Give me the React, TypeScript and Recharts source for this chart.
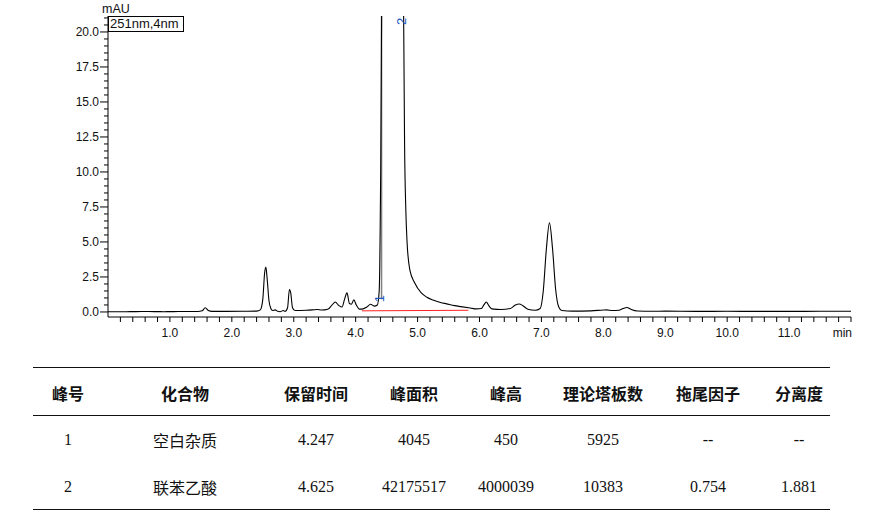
import React from 'react';
import { LineChart, Line, XAxis, YAxis, ReferenceLine, ReferenceDot } from 'recharts';

// Chromatogram trace: retention time (min) and absorbance (mAU)
const times = [
  0.0, 0.3, 0.6, 0.9, 1.2, 1.45, 1.52, 1.57, 1.62, 1.68, 1.9, 2.2, 2.4, 2.46, 2.5, 2.53, 2.55, 2.57, 2.6, 2.63,
  2.66, 2.7, 2.74, 2.78, 2.83, 2.86, 2.9, 2.93, 2.95, 2.98, 3.02, 3.2, 3.3, 3.38, 3.45, 3.55, 3.62, 3.67, 3.73, 3.78,
  3.82, 3.86, 3.9, 3.93, 3.97, 4.01, 4.06, 4.1, 4.18, 4.24, 4.3, 4.35, 4.38, 4.4, 4.42, 4.45, 4.5, 4.625, 4.7, 4.74,
  4.76, 4.775, 4.79, 4.81, 4.83, 4.875, 4.95, 5.06, 5.15, 5.25, 5.37, 5.47, 5.6, 5.7, 5.85, 5.95, 6.03, 6.07, 6.11, 6.15,
  6.2, 6.35, 6.5, 6.58, 6.64, 6.7, 6.78, 6.9, 6.98, 7.03, 7.08, 7.13, 7.18, 7.23, 7.28, 7.33, 7.5, 7.8, 8.0, 8.05,
  8.15, 8.25, 8.32, 8.38, 8.45, 8.55, 8.8, 9.0, 9.5, 10.0, 10.5, 11.0, 11.5, 12.0,
];
const absorbance = [
  0.02, 0.02, 0.03, 0.02, 0.03, 0.03, 0.08, 0.3, 0.1, 0.04, 0.04, 0.05, 0.06, 0.15, 0.9, 2.8, 3.2, 2.4, 0.8, 0.25,
  0.1, 0.15, 0.05, 0.02, 0.1, 0.05, 0.3, 1.6, 1.4, 0.3, 0.1, 0.12, 0.15, 0.18, 0.14, 0.2, 0.5, 0.71, 0.45, 0.35,
  0.9, 1.36, 0.6, 0.55, 0.86, 0.5, 0.2, 0.2, 0.35, 0.55, 0.42, 0.5, 1.5, 8, 22, 200, 1500, 4000, 1500, 200,
  40, 21, 12, 7.3, 5.0, 3.0, 2.1, 1.36, 1.05, 0.85, 0.68, 0.58, 0.45, 0.38, 0.28, 0.22, 0.25, 0.5, 0.71, 0.45,
  0.22, 0.18, 0.25, 0.5, 0.57, 0.45, 0.2, 0.12, 0.25, 1.5, 4.5, 6.36, 4.5, 1.6, 0.35, 0.1, 0.06, 0.08, 0.14, 0.15,
  0.1, 0.12, 0.25, 0.32, 0.18, 0.07, 0.05, 0.06, 0.04, 0.05, 0.04, 0.04, 0.05, 0.05,
];

// Integration baseline (red)
const baselineTimes = [4.1, 5.82];
const baselineValues = [0.08, 0.12];

// Peak labels
const peakLabels = ['1', '2'];
const peakLabelTimes = [4.39, 4.748];
const peakLabelValues = [0.95, 20.75];

// Axis labels
const xMajorLabels = ['1.0', '2.0', '3.0', '4.0', '5.0', '6.0', '7.0', '8.0', '9.0', '10.0', '11.0'];
const xUnit = 'min';
const yMajorLabels = ['0.0', '2.5', '5.0', '7.5', '10.0', '12.5', '15.0', '17.5', '20.0'];
const yUnit = 'mAU';
const legendText = '251nm,4nm';

// Table
const tableHeaders = ['峰号', '化合物', '保留时间', '峰面积', '峰高', '理论塔板数', '拖尾因子', '分离度'];
const row1 = ['1', '空白杂质', '4.247', '4045', '450', '5925', '--', '--'];
const row2 = ['2', '联苯乙酸', '4.625', '42175517', '4000039', '10383', '0.754', '1.881'];

const traceData = times.map((t, i) => ({ t, v: absorbance[i] }));
const baselineData = baselineTimes.map((t, i) => ({ t, v: baselineValues[i] }));

const xTicks: number[] = [];
for (let i = 1; i <= 60; i++) xTicks.push(Math.round(i * 2) / 10);
const yTicks: number[] = [];
for (let i = 0; i <= 42; i++) yTicks.push(i / 2);

const axisFont = '"Liberation Sans", Arial, sans-serif';

const XTick = (props: any) => {
  const { x, y, payload } = props;
  const v = payload.value as number;
  const isMajor = Math.abs(v - Math.round(v)) < 1e-6;
  let label: string | null = null;
  if (isMajor) {
    const idx = Math.round(v) - 1;
    if (idx >= 0 && idx < xMajorLabels.length) label = xMajorLabels[idx];
  }
  const isEnd = Math.abs(v - 12) < 1e-6;
  return (
    <g>
      <line x1={x} x2={x} y1={y} y2={y + 5} stroke="#000" strokeWidth={1} />
      {label && (
        <text x={x} y={y + 20} textAnchor="middle" fontSize={12} fontFamily={axisFont} fill="#111">
          {label}
        </text>
      )}
      {isEnd && (
        <text x={x + 1} y={y + 20} textAnchor="end" fontSize={12} fontFamily={axisFont} fill="#111">
          {xUnit}
        </text>
      )}
    </g>
  );
};

const YTick = (props: any) => {
  const { x, y, payload } = props;
  const v = payload.value as number;
  const k = v / 2.5;
  const isMajor = Math.abs(k - Math.round(k)) < 1e-6;
  const label = isMajor ? yMajorLabels[Math.round(k)] : null;
  return (
    <g>
      <line x1={x - (isMajor ? 8 : 4)} x2={x} y1={y} y2={y} stroke="#000" strokeWidth={1} />
      {label && (
        <text x={x - 9} y={y + 4.5} textAnchor="end" fontSize={12} fontFamily={axisFont} fill="#111">
          {label}
        </text>
      )}
    </g>
  );
};

const PeakLabel = (text: string) => (props: any) => {
  const { cx, cy } = props;
  return (
    <text
      x={cx}
      y={cy}
      transform={`rotate(-90 ${cx} ${cy})`}
      textAnchor="middle"
      dominantBaseline="central"
      fontSize={13}
      fontFamily={axisFont}
      fill="#1f5bbf"
    >
      {text}
    </text>
  );
};

const colCenters = [68, 185, 316, 414, 506, 603, 708, 799];
const rowCenters = [393, 440, 487];
const ruleYs = [367, 415, 509];

const Cell = ({ cx, cy, text, header }: { cx: number; cy: number; text: string; header?: boolean }) => {
  const isCJK = /[\u4e00-\u9fff]/.test(text);
  return (
    <div
      style={{
        position: 'absolute',
        left: cx - 80,
        top: cy - 11,
        width: 160,
        height: 22,
        lineHeight: '22px',
        textAlign: 'center',
        fontSize: 16,
        fontWeight: header ? 700 : 400,
        color: '#111',
        fontFamily: header || isCJK ? '"Noto Sans CJK SC", sans-serif' : '"Liberation Serif", "Times New Roman", serif',
        whiteSpace: 'nowrap',
      }}
    >
      {text}
    </div>
  );
};

export default function App() {
  const rows = [tableHeaders, row1, row2];
  return (
    <div style={{ position: 'absolute', left: 0, top: 0, width: 876, height: 516, background: '#fff' }}>
      <LineChart
        width={876}
        height={345}
        data={traceData}
        margin={{ top: 16, right: 25, bottom: 0, left: 48 }}
      >
        <XAxis
          dataKey="t"
          type="number"
          domain={[0, 12]}
          ticks={xTicks}
          interval={0}
          allowDataOverflow
          height={28}
          tickSize={0}
          tickMargin={0}
          tickLine={false}
          tick={<XTick />}
          axisLine={{ stroke: '#000', strokeWidth: 1 }}
        />
        <XAxis
          xAxisId="top"
          orientation="top"
          type="number"
          domain={[0, 12]}
          height={0}
          tick={false}
          tickLine={false}
          axisLine={{ stroke: '#808080', strokeWidth: 1.5 }}
        />
        <YAxis
          type="number"
          domain={[-0.36, 21.14]}
          ticks={yTicks}
          interval={0}
          allowDataOverflow
          width={60}
          tickSize={0}
          tickMargin={0}
          tickLine={false}
          tick={<YTick />}
          axisLine={{ stroke: '#000', strokeWidth: 1 }}
        />
        <YAxis
          yAxisId="right"
          orientation="right"
          type="number"
          domain={[0, 1]}
          width={0}
          tick={false}
          tickLine={false}
          axisLine={{ stroke: '#808080', strokeWidth: 1.5 }}
        />
        <ReferenceLine
          segment={[{ x: 4.418, y: 0.9 }, { x: 4.418, y: 21.14 }]}
          stroke="#808080"
          strokeWidth={1.5}
        />
        <Line
          data={baselineData}
          dataKey="v"
          type="linear"
          stroke="#ff2020"
          strokeWidth={1}
          dot={false}
          isAnimationActive={false}
        />
        <Line
          dataKey="v"
          type="monotone"
          stroke="#000"
          strokeWidth={1.1}
          dot={false}
          isAnimationActive={false}
        />
        {peakLabels.map((lab, i) => (
          <ReferenceDot
            key={lab}
            x={peakLabelTimes[i]}
            y={peakLabelValues[i]}
            r={0}
            ifOverflow="visible"
            shape={PeakLabel(lab)}
          />
        ))}
      </LineChart>
      <div
        style={{
          position: 'absolute',
          left: 102,
          top: 2,
          fontSize: 12.5,
          fontFamily: axisFont,
          color: '#111',
          lineHeight: '14px',
        }}
      >
        {yUnit}
      </div>
      <div
        style={{
          position: 'absolute',
          left: 108,
          top: 16,
          width: 73,
          height: 14,
          border: '1px solid #000',
          background: '#fff',
          fontSize: 13,
          fontFamily: axisFont,
          color: '#111',
          lineHeight: '14px',
          paddingLeft: 1,
          boxSizing: 'content-box',
        }}
      >
        {legendText}
      </div>
      {ruleYs.map((y) => (
        <div
          key={y}
          style={{ position: 'absolute', left: 33, top: y, width: 797, height: 0, borderTop: '1.5px solid #111' }}
        />
      ))}
      {rows.map((r, ri) =>
        r.map((txt, ci) => (
          <Cell key={`${ri}-${ci}`} cx={colCenters[ci]} cy={rowCenters[ri]} text={txt} header={ri === 0} />
        ))
      )}
    </div>
  );
}
